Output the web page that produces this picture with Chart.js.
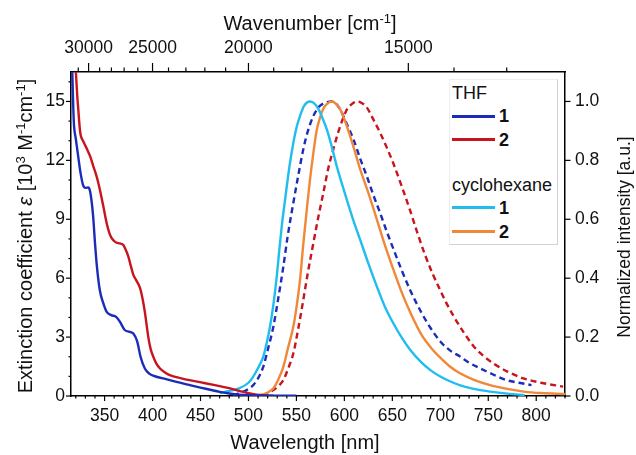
<!DOCTYPE html>
<html>
<head>
<meta charset="utf-8">
<script src="https://cdn.jsdelivr.net/npm/chart.js@4.4.1/dist/chart.umd.min.js"></script>
<style>
  body { margin: 0; background: #fff; }
  #wrap { position: relative; width: 636px; height: 455px; font-family: "Liberation Sans", Arial, sans-serif; color: #111; }
  #chart { position: absolute; left: 0; top: 0; }
  #legend { position: absolute; left: 449px; top: 79px; width: 109px; height: 166px; box-sizing: border-box;
            border: 1px solid #eeeeee; border-right-color: #d2d2d2; border-bottom-color: #d2d2d2; background: #fff; }
  .row { position: absolute; left: 2px; height: 20px; line-height: 20px; font-size: 18px; white-space: nowrap; }
  .sw { display: inline-block; width: 43px; height: 3px; vertical-align: middle; margin-right: 4px; position: relative; top: -1px; }
  .num { font-weight: bold; }
</style>
</head>
<body>
<div id="wrap">
  <canvas id="chart" width="636" height="455"></canvas>
  <div id="legend"></div>
</div>
<script>
// absorption, left axis (10^3 M-1 cm-1)
const thf1AbsWl  = [315, 316.4, 317, 318, 320, 322.5, 325, 327.5, 330, 333, 335, 338, 340, 342, 345, 348.5, 352, 357, 362, 366, 371, 376, 380, 384, 387.5, 392, 396.5, 404, 415, 425, 437, 450, 460, 470, 480, 490, 500, 520, 550];
const thf1AbsEps = [17.2, 16.4, 15.3, 13.9, 13.1, 12.2, 11.35, 10.75, 10.6, 10.62, 10.4, 9.2, 7.8, 6.6, 5.4, 4.75, 4.3, 4.12, 4.03, 3.78, 3.36, 3.27, 3.18, 2.78, 2.0, 1.4, 1.14, 0.98, 0.85, 0.72, 0.58, 0.43, 0.32, 0.21, 0.13, 0.07, 0.04, 0.02, 0.01];

const thf2AbsWl  = [319, 320.2, 321.5, 322.6, 324, 325, 328, 331.4, 335, 338.3, 341, 343.5, 346, 348.7, 352.2, 355, 357.4, 361, 364.3, 369.5, 372, 374.8, 377.5, 380, 383.5, 387, 390, 392.2, 395.6, 398, 400.8, 404, 407.8, 413, 418, 430, 442.5, 455, 470, 480, 491, 500, 508.6, 518, 526];
const thf2AbsEps = [17.2, 16.4, 15.3, 14.6, 13.7, 13.3, 12.95, 12.6, 12.2, 11.7, 11.3, 10.85, 10.3, 9.66, 8.8, 8.3, 8.04, 7.85, 7.79, 7.7, 7.45, 7.1, 6.6, 6.17, 5.85, 5.49, 4.85, 4.21, 3.0, 2.4, 2.0, 1.65, 1.4, 1.2, 1.06, 0.9, 0.77, 0.65, 0.5, 0.4, 0.25, 0.14, 0.07, 0.03, 0.01];

// emission, right axis (normalized)
const thf1EmWl = [484, 491, 498, 505, 510, 515.5, 520, 526, 531, 536.4, 541, 546.8, 552, 557.2, 562, 567.7, 573, 578, 587, 592, 597.3, 603, 609.4, 616, 623.3, 630, 637.2, 644, 651, 660, 668.5, 680, 690, 700, 710, 720.6, 730, 741.5, 755, 769, 782, 795];
const thf1EmI  = [0.003, 0.01, 0.02, 0.037, 0.06, 0.1, 0.155, 0.236, 0.33, 0.44, 0.545, 0.656, 0.75, 0.838, 0.9, 0.951, 0.98, 0.993, 1.0, 0.99, 0.962, 0.92, 0.872, 0.81, 0.747, 0.684, 0.622, 0.56, 0.5, 0.425, 0.36, 0.285, 0.23, 0.185, 0.155, 0.134, 0.113, 0.094, 0.073, 0.054, 0.045, 0.037];

const thf2EmWl = [515, 526, 531, 536.4, 541, 546.8, 552, 557.2, 562, 567.7, 573, 578.1, 583, 588.5, 594, 598.9, 603, 607.7, 613, 618, 623.3, 630, 637.2, 644, 651, 660, 668.5, 676, 684, 692, 699.8, 706, 713.7, 724, 734.5, 745, 755, 770, 786.6, 805, 828];
const thf2EmI  = [0.0, 0.02, 0.033, 0.054, 0.09, 0.145, 0.23, 0.327, 0.42, 0.52, 0.61, 0.69, 0.77, 0.838, 0.9, 0.945, 0.975, 0.991, 1.0, 0.995, 0.98, 0.94, 0.894, 0.845, 0.79, 0.71, 0.63, 0.555, 0.48, 0.415, 0.36, 0.318, 0.272, 0.218, 0.17, 0.136, 0.111, 0.083, 0.06, 0.045, 0.032];

const chx1EmWl = [470, 480, 491, 500, 505, 510, 515.5, 519, 522.5, 526, 529.5, 532, 534.7, 537.5, 540, 543, 546.8, 550, 553.8, 558, 564, 568, 573, 577, 581.6, 587, 592, 597, 602.5, 609, 616.4, 625, 633.8, 642, 651, 660, 668.5, 680, 690, 700, 710, 720, 735, 752, 770, 788];
const chx1EmI  = [0.01, 0.017, 0.027, 0.045, 0.066, 0.095, 0.134, 0.18, 0.236, 0.31, 0.406, 0.49, 0.576, 0.65, 0.713, 0.785, 0.86, 0.91, 0.951, 0.985, 1.0, 0.995, 0.974, 0.945, 0.906, 0.845, 0.781, 0.725, 0.667, 0.6, 0.531, 0.45, 0.372, 0.305, 0.247, 0.197, 0.157, 0.115, 0.087, 0.066, 0.05, 0.037, 0.024, 0.015, 0.008, 0.003];

const chx2EmWl = [498, 512, 520, 526, 531, 536.4, 541, 546.8, 550, 553.8, 557, 560.8, 564, 567.7, 571, 574.6, 578, 581.6, 587, 591, 595.5, 600, 605.9, 611, 616.4, 625, 633.8, 642, 651, 660, 668.5, 680, 690, 700, 710, 720, 735, 752, 770, 787, 805, 830];
const chx2EmI  = [0.0, 0.003, 0.012, 0.026, 0.055, 0.1, 0.16, 0.236, 0.3, 0.395, 0.51, 0.633, 0.73, 0.826, 0.9, 0.945, 0.975, 0.991, 1.0, 0.993, 0.974, 0.94, 0.883, 0.83, 0.77, 0.69, 0.6, 0.515, 0.43, 0.35, 0.285, 0.21, 0.165, 0.13, 0.1, 0.078, 0.055, 0.037, 0.024, 0.015, 0.01, 0.007];

// axis ticks
const wlMajor = [350, 400, 450, 500, 550, 600, 650, 700, 750, 800];
const wnMajor = [30000, 25000, 20000, 15000];
const wnMinor = [31000, 29000, 28000, 27000, 26000, 24000, 23000, 22000, 21000, 19000, 18000, 17000, 16000, 14000, 13000];
const epsMajor = [0, 3, 6, 9, 12, 15];
const intMajor = [0, 0.2, 0.4, 0.6, 0.8, 1.0];

// axis titles as rich text pieces: [text, 'n' | 'i' | 's']
const titleBottom = [['Wavelength [nm]', 'n']];
const titleTop = [['Wavenumber [cm', 'n'], ['-1', 's'], [']', 'n']];
const titleLeft = [['Extinction coefficient ', 'n'], ['ε', 'i'], [' [10', 'n'], ['3', 's'], [' M', 'n'], ['-1', 's'], ['cm', 'n'], ['-1', 's'], [']', 'n']];
const titleRight = [['Normalized intensity [a.u.]', 'n']];

const blue = '#1b2db8';
const red = '#c8141c';
const cyan = '#20bdf0';
const orange = '#f0883a';

const legendGroups = [
  { name: 'THF', items: [['1', blue], ['2', red]] },
  { name: 'cyclohexane', items: [['1', cyan], ['2', orange]] },
];

const FONT = '"Liberation Sans", Arial, sans-serif';
const toPts = (xs, ys) => xs.map((v, i) => ({ x: v, y: ys[i] }));

let wlMinor = [];
for (let w = 320; w <= 830; w += 10) if (w % 50 !== 0) wlMinor.push(w);
let epsMinor = [];
for (let e = 1; e <= 16; e++) if (e % 3 !== 0) epsMinor.push(e);

const tickMarks = {
  id: 'tickMarks',
  afterDraw(chart) {
    const ctx = chart.ctx;
    const { x, x2, y, y2 } = chart.scales;
    ctx.save();
    ctx.strokeStyle = '#000';
    ctx.lineWidth = 1.2;
    const line = (x0, y0, x1, y1) => { ctx.beginPath(); ctx.moveTo(x0, y0); ctx.lineTo(x1, y1); ctx.stroke(); };
    wlMajor.forEach(v => { const p = x.getPixelForValue(v); line(p, x.top, p, x.top + 5); });
    wlMinor.forEach(v => { const p = x.getPixelForValue(v); line(p, x.top, p, x.top + 2.5); });
    wnMajor.forEach(v => { const p = x2.getPixelForValue(1e7 / v); line(p, x2.bottom, p, x2.bottom - 9); });
    wnMinor.forEach(v => { const p = x2.getPixelForValue(1e7 / v); line(p, x2.bottom, p, x2.bottom - 4.5); });
    epsMajor.forEach(v => { const p = y.getPixelForValue(v); line(y.right, p, y.right - 5, p); });
    epsMinor.forEach(v => { const p = y.getPixelForValue(v); line(y.right, p, y.right - 2.5, p); });
    intMajor.forEach(v => { const p = y2.getPixelForValue(v); line(y2.left, p, y2.left + 5.5, p); });
    ctx.restore();
  }
};

// draws a title centred on (cx, cy), rotated by rot
function richText(ctx, parts, size, cx, cy, rot) {
  const fontOf = k => k === 'i' ? 'italic ' + size + 'px ' + FONT
    : k === 's' ? Math.round(size * 0.65) + 'px ' + FONT : size + 'px ' + FONT;
  let total = 0;
  parts.forEach(([t, k]) => { ctx.font = fontOf(k); total += ctx.measureText(t).width; });
  ctx.save();
  ctx.translate(cx, cy);
  ctx.rotate(rot);
  ctx.fillStyle = '#111';
  ctx.textBaseline = 'alphabetic';
  let px = -total / 2;
  const base = size * 0.36;
  parts.forEach(([t, k]) => {
    ctx.font = fontOf(k);
    ctx.fillText(t, px, k === 's' ? base - size * 0.38 : base);
    px += ctx.measureText(t).width;
  });
  ctx.restore();
}

const axisTitles = {
  id: 'axisTitles',
  afterDraw(chart) {
    const ctx = chart.ctx;
    const a = chart.chartArea;
    const midY = (a.top + a.bottom) / 2;
    richText(ctx, titleBottom, 20, 305, 442, 0);
    richText(ctx, titleTop, 20, 310, 23, 0);
    richText(ctx, titleLeft, 20, 25, midY + 2, -Math.PI / 2);
    richText(ctx, titleRight, 17.5, 624, midY + 3, -Math.PI / 2);
  }
};

const mk = (label, xs, ys, color, axis, dash) => ({
  label, data: toPts(xs, ys), borderColor: color, yAxisID: axis,
  borderDash: dash, borderWidth: 2.4, pointRadius: 0, fill: false,
  cubicInterpolationMode: 'monotone'
});

const datasets = [
  mk('THF 1 abs', thf1AbsWl, thf1AbsEps, blue, 'y', []),
  mk('THF 2 abs', thf2AbsWl, thf2AbsEps, red, 'y', []),
  mk('cyclohexane 1', chx1EmWl, chx1EmI, cyan, 'y2', []),
  mk('cyclohexane 2', chx2EmWl, chx2EmI, orange, 'y2', []),
  mk('THF 1 em', thf1EmWl, thf1EmI, blue, 'y2', [6, 4]),
  mk('THF 2 em', thf2EmWl, thf2EmI, red, 'y2', [6, 4]),
];

Chart.defaults.font.family = FONT;
Chart.defaults.color = '#111';

const axisBase = {
  grid: { display: true, drawOnChartArea: false, drawTicks: false },
  border: { display: true, color: '#000', width: 1.5 },
  title: { display: false },
};

new Chart(document.getElementById('chart'), {
  type: 'line',
  data: { datasets },
  options: {
    responsive: false,
    animation: false,
    layout: { padding: 0 },
    plugins: { legend: { display: false }, tooltip: { enabled: false } },
    scales: {
      x: {
        ...axisBase, type: 'linear', position: 'bottom', min: 315, max: 830,
        afterFit: s => { s.height = 59; },
        ticks: { stepSize: 50, includeBounds: false, padding: 10, maxRotation: 0, autoSkip: false, font: { size: 17.5 } }
      },
      x2: {
        ...axisBase, type: 'linear', position: 'top', min: 315, max: 830,
        afterFit: s => { s.height = 72; },
        afterBuildTicks: s => { s.ticks = wnMajor.map(w => ({ value: 1e7 / w })); },
        ticks: { padding: 13.5, maxRotation: 0, autoSkip: false, font: { size: 17.5 }, callback: v => String(Math.round(1e7 / v)) }
      },
      y: {
        ...axisBase, type: 'linear', position: 'left', min: 0, max: 16.5,
        afterFit: s => { s.width = 71; },
        ticks: { stepSize: 3, includeBounds: false, padding: 6, font: { size: 17.5 } }
      },
      y2: {
        ...axisBase, type: 'linear', position: 'right', min: 0, max: 1.1,
        afterFit: s => { s.width = 71; },
        ticks: { stepSize: 0.2, includeBounds: false, padding: 10, font: { size: 17.5 }, callback: v => v.toFixed(1) }
      }
    }
  },
  plugins: [tickMarks, axisTitles]
});

// grouped legend
const legendEl = document.getElementById('legend');
const rowTops = [2.5, 26, 49.5, 95, 117.5, 141.7];
let r = 0;
legendGroups.forEach(g => {
  const head = document.createElement('div');
  head.className = 'row';
  head.style.top = rowTops[r++] + 'px';
  head.textContent = g.name;
  legendEl.appendChild(head);
  g.items.forEach(([num, color]) => {
    const row = document.createElement('div');
    row.className = 'row';
    row.style.top = rowTops[r++] + 'px';
    row.innerHTML = '<span class="sw" style="background:' + color + '"></span><span class="num">' + num + '</span>';
    legendEl.appendChild(row);
  });
});
</script>
</body>
</html>
